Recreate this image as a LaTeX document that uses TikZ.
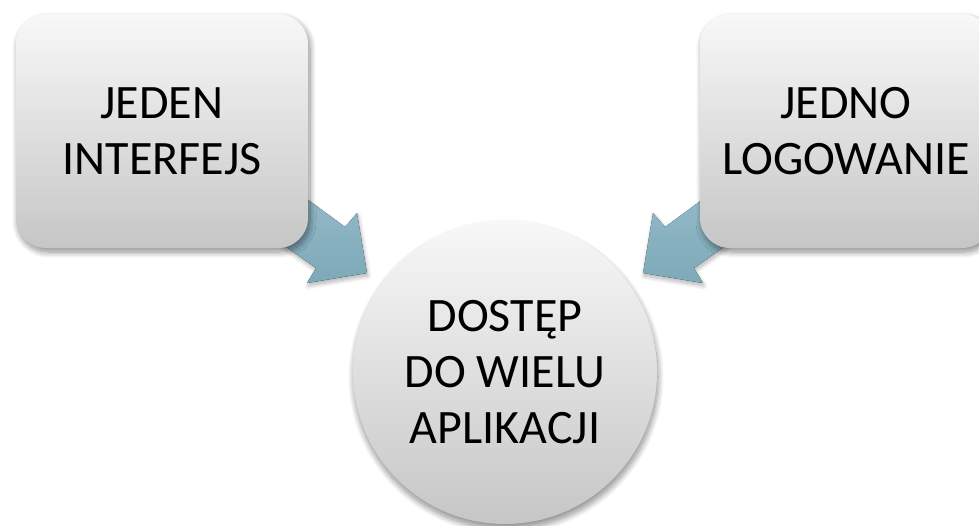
\documentclass[tikz,border=0pt]{standalone}
\usepackage{fontspec}
\setmainfont{Carlito}
\usetikzlibrary{shadows.blur}
\definecolor{boxtop}{HTML}{F8F8F8}
\definecolor{boxbot}{HTML}{C6C6C6}
\definecolor{arrtop}{HTML}{96BCC9}
\definecolor{arrbot}{HTML}{7EA9B9}
\tikzset{
  panel/.style={rounded corners=30pt, top color=boxtop, bottom color=boxbot,
    minimum width=292pt, minimum height=234pt, inner sep=0pt, align=center,
    font=\fontsize{48pt}{56pt}\selectfont,
    blur shadow={shadow xshift=2pt, shadow yshift=-4pt, shadow blur steps=12, shadow opacity=45, shadow blur radius=6pt}},
  hub/.style={circle, top color=boxtop, bottom color=boxbot,
    minimum size=304pt, inner sep=0pt, align=center,
    font=\fontsize{48pt}{56pt}\selectfont,
    blur shadow={shadow xshift=1pt, shadow yshift=-5pt, shadow blur steps=12, shadow opacity=45, shadow blur radius=6pt}},
  blockarrow/.style={top color=arrtop, bottom color=arrbot,
    blur shadow={shadow xshift=1pt, shadow yshift=-3pt, shadow blur steps=8, shadow opacity=30, shadow blur radius=4pt}}
}
\begin{document}
\begin{tikzpicture}[x=1pt,y=-1pt]
\useasboundingbox (0,0) rectangle (979,525);
\path[clip] (0,0) rectangle (979,525);
% arrows
\fill[blockarrow] (281,180) -- (345,227) -- (357,213) -- (367,273) -- (307,283) -- (316,268) -- (251,222) -- cycle;
\fill[blockarrow] (729,180) -- (665,227) -- (653,213) -- (643,273) -- (703,283) -- (694,268) -- (759,222) -- cycle;
% boxes
\node[panel] (left) at (162,131) {JEDEN\\INTERFEJS};
\node[panel] (right) at (846,131) {JEDNO\\LOGOWANIE};
% hub
\node[hub] (hubnode) at (505,372) {DOSTĘP\\DO WIELU\\APLIKACJI};
\end{tikzpicture}
\end{document}
